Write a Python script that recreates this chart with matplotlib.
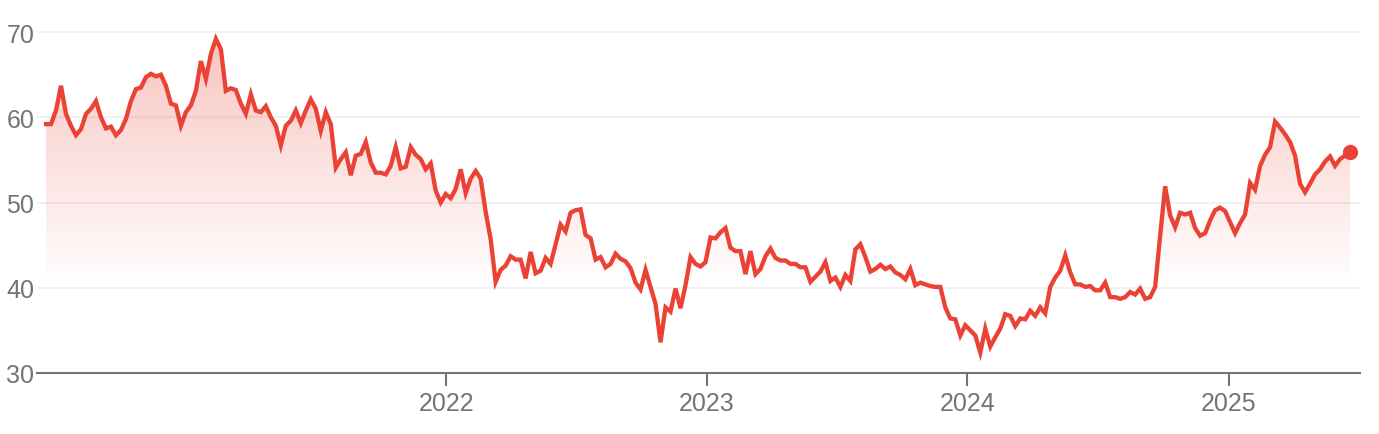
import numpy as np
import pandas as pd
import matplotlib
matplotlib.use("Agg")
import matplotlib.pyplot as plt
import matplotlib.dates as mdates

# Weekly closing prices (Jun 2020 - Jun 2025)
start_date = "2020-06-19"
price = [
    59.2, 59.2, 60.8, 63.7, 60.4, 59.0, 57.9, 58.6, 60.4, 61.0,
    61.9, 60.0, 58.7, 58.9, 57.9, 58.5, 59.8, 61.9, 63.3, 63.5,
    64.7, 65.1, 64.8, 65.0, 63.7, 61.6, 61.4, 59.0, 60.6, 61.4,
    63.1, 66.6, 64.5, 67.4, 69.2, 68.0, 63.1, 63.4, 63.2, 61.6,
    60.4, 62.7, 60.8, 60.6, 61.3, 60.0, 59.0, 56.7, 59.0, 59.6,
    60.8, 59.3, 60.8, 62.1,
    61.0, 58.4, 60.6, 59.2, 54.1, 55.1, 55.9, 53.2, 55.5, 55.7,
    57.1, 54.7, 53.5, 53.5, 53.3, 54.3, 56.5, 54.0, 54.2, 56.5,
    55.6, 55.1, 53.9, 54.6, 51.4, 50.0, 51.0, 50.5, 51.6, 53.9,
    51.1, 52.8, 53.7, 52.8, 48.9, 45.7, 40.7, 42.1, 42.6, 43.7,
    43.3, 43.3, 41.1, 44.2, 41.7, 42.0, 43.5, 42.8, 45.1, 47.4,
    46.6, 48.8,
    49.1, 49.2, 46.2, 45.8, 43.3, 43.6, 42.4, 42.8, 44.0, 43.4,
    43.1, 42.3, 40.6, 39.8, 42.1, 40.1, 38.1, 33.6, 37.7, 37.2,
    39.9, 37.6, 40.3, 43.6, 42.8, 42.5, 43.0, 45.9, 45.8, 46.5,
    47.0, 44.7, 44.3, 44.3, 41.6, 44.3, 41.6, 42.2, 43.7, 44.6,
    43.5, 43.2, 43.2, 42.8, 42.8, 42.4, 42.4, 40.7, 41.3, 41.9,
    43.0, 40.8,
    41.2, 40.1, 41.5, 40.8, 44.5, 45.1, 43.6, 41.9, 42.2, 42.7,
    42.2, 42.5, 41.8, 41.5, 41.0, 42.2, 40.3, 40.6, 40.4, 40.2,
    40.1, 40.1, 37.7, 36.4, 36.3, 34.4, 35.6, 35.0, 34.4, 32.4,
    35.2, 33.1, 34.2, 35.2, 36.9, 36.7, 35.5, 36.4, 36.3, 37.3,
    36.7, 37.7, 37.0, 40.1, 41.2, 42.0, 43.8, 41.8, 40.4, 40.4,
    40.1,
    40.2, 39.7, 39.7, 40.6, 38.9, 38.9, 38.7, 38.9, 39.5, 39.2,
    39.9, 38.7, 38.9, 40.1, 46.1, 51.9, 48.5, 47.1, 48.8, 48.6,
    48.8, 47.0, 46.1, 46.4, 47.9, 49.1, 49.4, 49.0, 47.7, 46.4,
    47.6, 48.6, 52.3, 51.5, 54.3, 55.6, 56.5, 59.5, 58.8, 58.0,
    57.1, 55.5, 52.2, 51.2, 52.2, 53.3, 53.9, 54.8, 55.4, 54.3,
    55.1, 55.5, 55.9,
]
year_ticks = ["2022", "2023", "2024", "2025"]
y_ticks = [30, 40, 50, 60, 70]

dates = pd.date_range(start_date, periods=len(price), freq="7D")
x = mdates.date2num(dates)
y = np.array(price)

red = "#ea4335"
gray = "#70757a"

plt.rcParams["font.family"] = ["Liberation Sans", "DejaVu Sans"]

fig = plt.figure(figsize=(13.79, 4.35), dpi=100)
ax = fig.add_axes([37 / 1379, 61 / 435, 1323 / 1379, 358 / 435])

# gradient fill under the line, fading out at 40
ymin, ymax = 30, 72
fill = ax.fill_between(x, y, ymin, color="none", lw=0)
grad_v = np.linspace(ymax, ymin, 400)
alpha = np.clip((grad_v - 40) / 30 * 0.32, 0, None)
rgba = np.zeros((400, 1, 4))
rgba[..., :3] = matplotlib.colors.to_rgb(red)
rgba[:, 0, 3] = alpha
im = ax.imshow(rgba, extent=[x[0], x[-1], ymin, ymax], aspect="auto",
               origin="upper", zorder=1)
im.set_clip_path(fill.get_paths()[0], transform=ax.transData)

ax.plot(x, y, color=red, lw=3.1, zorder=3, solid_joinstyle="miter")
ax.plot(x[-1], y[-1], "o", color=red, ms=10, zorder=4)

ax.set_ylim(ymin, ymax)
ax.set_xlim(x[0] - 12.6, x[-1] + 14)

ax.set_yticks(y_ticks)
ax.set_yticklabels([str(v) for v in y_ticks])
for v in y_ticks[1:]:
    ax.axhline(v, color="#f1f1f1", lw=1.5, zorder=0)

ax.set_xticks(mdates.date2num(pd.to_datetime([f"{t}-01-01" for t in year_ticks])))
ax.set_xticklabels(year_ticks)

for s in ["top", "right", "left"]:
    ax.spines[s].set_visible(False)
ax.spines["bottom"].set_color(gray)
ax.spines["bottom"].set_linewidth(1.5)

ax.tick_params(axis="y", length=0, pad=2, labelsize=18, labelcolor=gray)
ax.tick_params(axis="x", length=9, width=1.5, color=gray, pad=4,
               labelsize=18, labelcolor=gray)

fig.savefig("out.png", dpi=100)
